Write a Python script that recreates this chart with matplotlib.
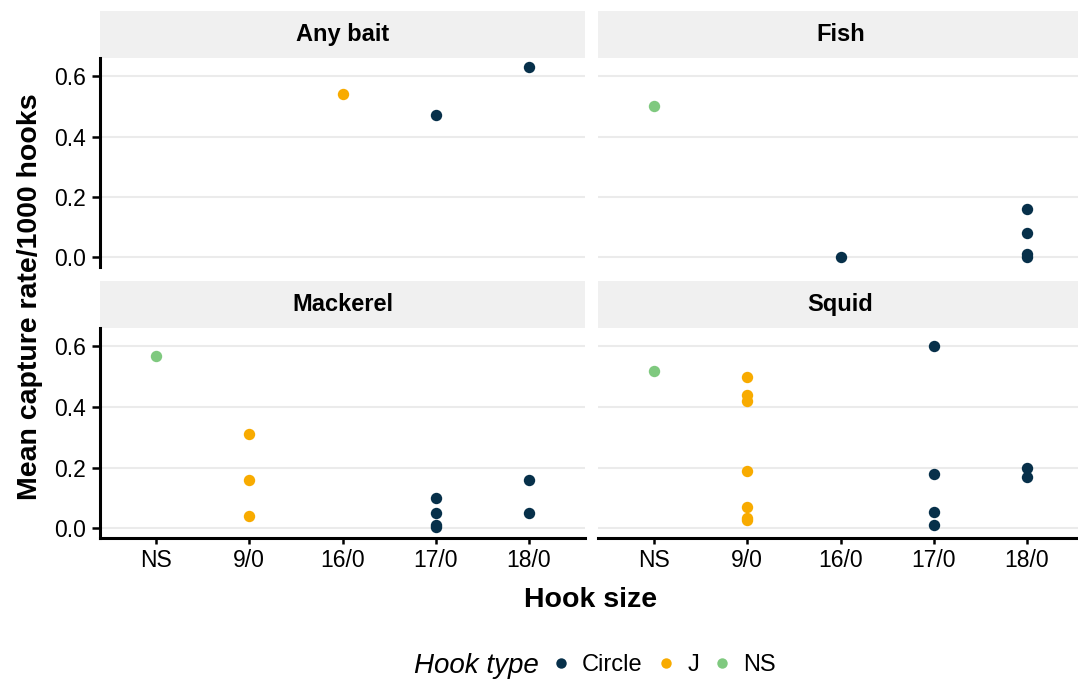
import matplotlib
matplotlib.use("Agg")
import matplotlib.pyplot as plt
from matplotlib.lines import Line2D
from matplotlib.patches import Rectangle

plt.rcParams['font.family'] = ['Liberation Sans', 'DejaVu Sans']

# data
hook_sizes = ["NS", "9/0", "16/0", "17/0", "18/0"]
hook_types = ["Circle", "J", "NS"]
type_colours = ["#07304a", "#f8ab00", "#7fc97f"]

any_bait_size = ["16/0", "17/0", "18/0"]
any_bait_type = ["J", "Circle", "Circle"]
any_bait_rate = [0.54, 0.47, 0.63]

fish_size = ["NS", "16/0", "18/0", "18/0", "18/0", "18/0"]
fish_type = ["NS", "Circle", "Circle", "Circle", "Circle", "Circle"]
fish_rate = [0.50, 0.0, 0.16, 0.08, 0.012, 0.0]

mackerel_size = ["NS", "9/0", "9/0", "9/0", "17/0", "17/0", "17/0", "17/0", "18/0", "18/0"]
mackerel_type = ["NS", "J", "J", "J", "Circle", "Circle", "Circle", "Circle", "Circle", "Circle"]
mackerel_rate = [0.57, 0.31, 0.16, 0.04, 0.10, 0.05, 0.012, 0.004, 0.16, 0.05]

squid_size = ["NS", "9/0", "9/0", "9/0", "9/0", "9/0", "9/0", "9/0",
              "17/0", "17/0", "17/0", "17/0", "18/0", "18/0"]
squid_type = ["NS", "J", "J", "J", "J", "J", "J", "J",
              "Circle", "Circle", "Circle", "Circle", "Circle", "Circle"]
squid_rate = [0.52, 0.50, 0.44, 0.42, 0.19, 0.07, 0.035, 0.028,
              0.60, 0.18, 0.055, 0.012, 0.20, 0.17]

y_ticks = [0.0, 0.2, 0.4, 0.6]
y_tick_labels = ["0.0", "0.2", "0.4", "0.6"]

panels = [
    ("Any bait", any_bait_size, any_bait_type, any_bait_rate),
    ("Fish", fish_size, fish_type, fish_rate),
    ("Mackerel", mackerel_size, mackerel_type, mackerel_rate),
    ("Squid", squid_size, squid_type, squid_rate),
]

W, H = 1078, 682
fig = plt.figure(figsize=(W / 100, H / 100), dpi=100)

# panel boxes in pixels: left, top, right, bottom
boxes = [
    (100, 57.5, 585, 267.0),
    (598, 57.5, 1083, 267.0),
    (100, 327.8, 585, 537.9),
    (598, 327.8, 1083, 537.9),
]
strip_h = 46.5

for i, (name, sizes, types, rates) in enumerate(panels):
    l, t, r, b = boxes[i]
    ax = fig.add_axes([l / W, 1 - b / H, (r - l) / W, (b - t) / H])
    ax.set_xlim(-0.6, 4.6)
    ax.set_ylim(-0.0315, 0.6615)
    for yt in y_ticks:
        ax.axhline(yt, color="#ebebeb", lw=1.5, zorder=0)

    for ht, col in zip(hook_types, type_colours):
        xs = [hook_sizes.index(s) for s, tp in zip(sizes, types) if tp == ht]
        ys = [v for v, tp in zip(rates, types) if tp == ht]
        ax.plot(xs, ys, "o", color=col, ms=8.2, mec="none", zorder=3, clip_on=False)

    for side in ["top", "right", "left", "bottom"]:
        ax.spines[side].set_visible(False)
    ax.set_xticks(range(len(hook_sizes)))
    ax.set_yticks(y_ticks)

    left_col = i % 2 == 0
    bottom_row = i >= 2
    if left_col:
        ax.spines["left"].set_visible(True)
        ax.spines["left"].set_linewidth(2.2)
        ax.set_yticklabels(y_tick_labels, fontsize=16.5)
        ax.tick_params(axis="y", length=6, width=1.8, pad=4, colors="black")
    else:
        ax.tick_params(axis="y", left=False, labelleft=False)
    if bottom_row:
        ax.spines["bottom"].set_visible(True)
        ax.spines["bottom"].set_linewidth(2.2)
        ax.set_xticklabels(hook_sizes, fontsize=16.5)
        ax.tick_params(axis="x", length=4, width=1.8, pad=4, colors="black")
    else:
        ax.tick_params(axis="x", bottom=False, labelbottom=False)

    # facet strip
    sh = strip_h / (b - t)
    ax.add_patch(Rectangle((0, 1.0), 1, sh, transform=ax.transAxes,
                           facecolor="#f0f0f0", edgecolor="none", clip_on=False))
    ax.text(0.5, 1.0 + sh / 2, name, transform=ax.transAxes, ha="center",
            va="center", fontsize=17, fontweight="bold")

fig.text(30 / W, 1 - 297 / H, "Mean capture rate/1000 hooks", rotation=90,
         ha="center", va="center", fontsize=20.5, fontweight="bold")
fig.text(591 / W, 1 - 600 / H, "Hook size", ha="center", va="center",
         fontsize=20.5, fontweight="bold")

# legend
fig.text(539 / W, 1 - 666 / H, "Hook type", ha="right", va="center",
         fontsize=20, fontstyle="italic")
handles = [Line2D([], [], ls="none", marker="o", ms=7.5, mec="none", color=c)
           for c in type_colours]
fig.legend(handles, hook_types, loc="center left", bbox_to_anchor=(551.5 / W, 1 - 665 / H),
           ncol=3, frameon=False, fontsize=17, handlelength=0.8, handletextpad=0.5,
           columnspacing=0.58, borderpad=0, borderaxespad=0)

fig.savefig("out.png", dpi=100)
